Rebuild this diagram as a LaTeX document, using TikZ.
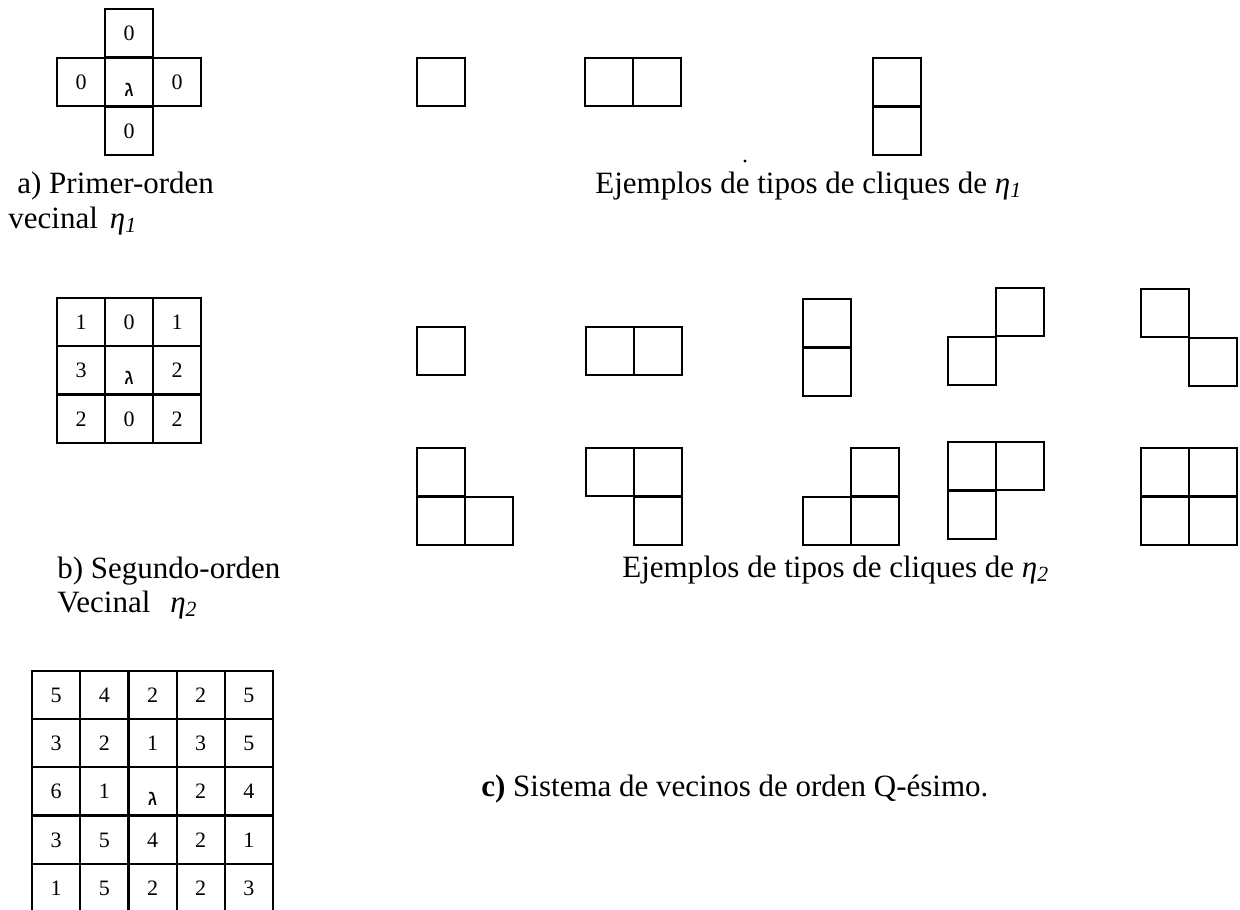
\documentclass[tikz,border=0pt]{standalone}
\usepackage{fontspec}
\setmainfont{Liberation Serif}
\newfontfamily\hebreo{Liberation Sans}
\newcommand{\lam}{\raisebox{-3.5pt}{\hebreo ג}}
\newcommand{\etasub}[1]{{\itshape η}\textsubscript{\itshape #1}}
\tikzset{
  celda/.style={
    draw, line width=1pt, minimum width=24.2pt, minimum height=24.2pt,
    inner sep=0pt, text height=7.4pt, text depth=0pt,
    font=\fontsize{11}{13}\selectfont
  },
  texto/.style={anchor=base west, inner sep=0pt, font=\fontsize{15.5}{18}\selectfont},
  punto/.style={circle, fill, inner sep=0pt, minimum size=1.6pt},
}
\begin{document}
\begin{tikzpicture}[x=0.5pt, y=-0.5pt]
\useasboundingbox (0,0) rectangle (1240,909);
\clip (0,0) rectangle (1240,909);

% a) primer orden
\node[celda] (aC) at (129,82) {\lam};
\node[celda] (aN) at (129,33) {0};
\node[celda] (aO) at (81,82) {0};
\node[celda] (aE) at (177,82) {0};
\node[celda] (aS) at (129,131) {0};

\node[texto] (tituloA) at (17,193) {a) Primer-orden};
\node[texto] (vecinalA) at (8,228) {vecinal\hspace{6pt}\etasub{1}};

% cliques de eta1
\node[celda] (u1) at (441,82) {};
\node[celda] (u2a) at (609,82) {};
\node[celda] (u2b) at (657,82) {};
\node[celda] (u3a) at (897,82) {};
\node[celda] (u3b) at (897,131) {};
\node[punto] (punto) at (745,161) {};
\node[texto] (ejemplosA) at (595,193) {Ejemplos de tipos de cliques de \etasub{1}};

% b) segundo orden
\node[celda] (b11) at (81,322) {1};
\node[celda] (b12) at (129,322) {0};
\node[celda] (b13) at (177,322) {1};
\node[celda] (b21) at (81,370) {3};
\node[celda] (b22) at (129,370) {\lam};
\node[celda] (b23) at (177,370) {2};
\node[celda] (b31) at (81,419) {2};
\node[celda] (b32) at (129,419) {0};
\node[celda] (b33) at (177,419) {2};

\node[texto] (tituloB) at (57,578) {b) Segundo-orden};
\node[texto] (vecinalB) at (57,612) {Vecinal\hspace{10pt}\etasub{2}};

% cliques de eta2, fila de arriba
\node[celda] (d1) at (441,351) {};
\node[celda] (d2a) at (610,351) {};
\node[celda] (d2b) at (658,351) {};
\node[celda] (d3a) at (827,323) {};
\node[celda] (d3b) at (827,372) {};
\node[celda] (d4a) at (972,361) {};
\node[celda] (d4b) at (1020,312) {};
\node[celda] (d5a) at (1165,313) {};
\node[celda] (d5b) at (1213,362) {};

% cliques de eta2, fila de abajo
\node[celda] (e1a) at (441,472) {};
\node[celda] (e1b) at (441,521) {};
\node[celda] (e1c) at (489,521) {};
\node[celda] (e2a) at (610,472) {};
\node[celda] (e2b) at (658,472) {};
\node[celda] (e2c) at (658,521) {};
\node[celda] (e3a) at (875,472) {};
\node[celda] (e3b) at (827,521) {};
\node[celda] (e3c) at (875,521) {};
\node[celda] (e4a) at (972,466) {};
\node[celda] (e4b) at (1020,466) {};
\node[celda] (e4c) at (972,515) {};
\node[celda] (e5a) at (1165,472) {};
\node[celda] (e5b) at (1213,472) {};
\node[celda] (e5c) at (1165,521) {};
\node[celda] (e5d) at (1213,521) {};

\node[texto] (ejemplosB) at (622,577) {Ejemplos de tipos de cliques de \etasub{2}};

% c) orden Q
\foreach \va/\vb/\vc/\vd/\ve [count=\i from 0] in
  {5/4/2/2/5, 3/2/1/3/5, 6/1/\lam/2/4, 3/5/4/2/1, 1/5/2/2/3}
  \foreach \v [count=\j from 0] in {\va,\vb,\vc,\vd,\ve}
    \node[celda] (c\i\j) at ({56.1+48.2*\j},{695+48.2*\i}) {\v};

\node[texto] (tituloC) at (481,796) {\textbf{c)} Sistema de vecinos de orden Q-ésimo.};

\end{tikzpicture}
\end{document}
